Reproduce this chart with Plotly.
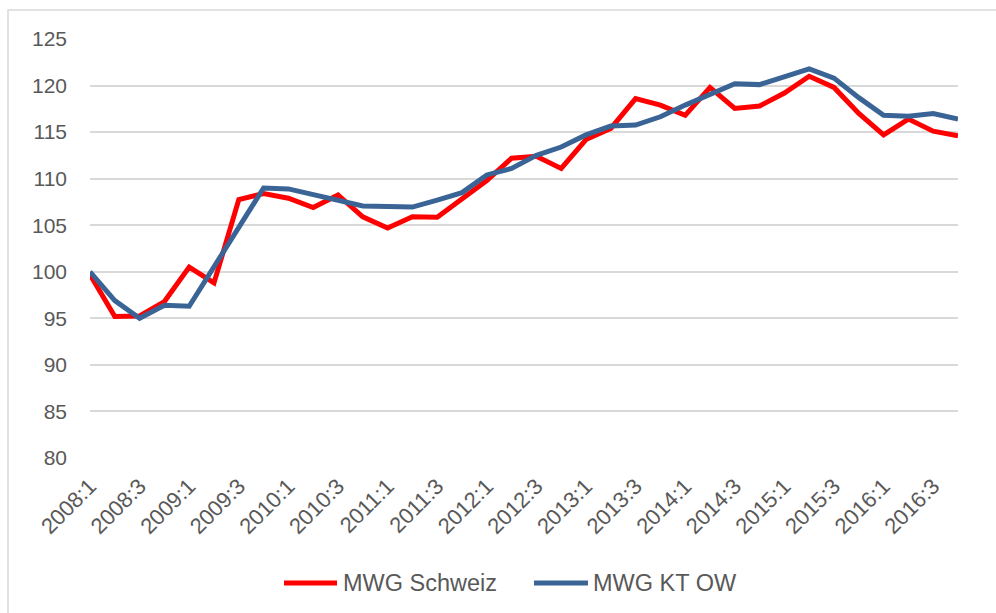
import plotly.graph_objects as go

# Quarterly index values, 2008:1 = 100
quarters = [f"{y}:{q}" for y in range(2008, 2017) for q in range(1, 5)]

mwg_schweiz = [99.7, 95.2, 95.25, 96.8, 100.5, 98.8, 107.75, 108.4, 107.9, 106.9,
               108.25, 105.9, 104.7, 105.9, 105.85, 107.8, 109.8, 112.2, 112.4, 111.1,
               114.2, 115.4, 118.6, 117.9, 116.8, 119.8, 117.55, 117.8, 119.2, 121.0,
               119.8, 117.0, 114.7, 116.4, 115.1, 114.6]

mwg_kt_ow = [100.0, 96.9, 95.0, 96.4, 96.3, 100.5, 104.6, 109.0, 108.9, 108.25,
             107.7, 107.06, 107.0, 106.95, 107.7, 108.5, 110.4, 111.1, 112.5, 113.4,
             114.7, 115.65, 115.76, 116.65, 117.9, 119.0, 120.2, 120.1, 120.95, 121.8,
             120.8, 118.7, 116.8, 116.7, 117.0, 116.4]

y_ticks = [80, 85, 90, 95, 100, 105, 110, 115, 120, 125]
x_ticks = quarters[::2]

RED = "#FF0000"
BLUE = "#3B6496"
GRID = "#D9D9D9"
TEXT = "#595959"
FONT = "Liberation Sans, Arial, sans-serif"

W, H = 996, 613
L, R, T, B = 90, 958, 39, 458


def px_x(x):
    return (x - L) / (R - L)


def px_y(y):
    return (B - y) / (B - T)


fig = go.Figure()
fig.add_trace(go.Scatter(x=quarters, y=mwg_schweiz, mode="lines", name="MWG Schweiz",
                         line=dict(color=RED, width=5)))
fig.add_trace(go.Scatter(x=quarters, y=mwg_kt_ow, mode="lines", name="MWG KT OW",
                         line=dict(color=BLUE, width=5)))

shapes = [
    # chart frame
    dict(type="rect", xref="paper", yref="paper",
         x0=px_x(8), x1=px_x(1100), y0=px_y(10), y1=px_y(700),
         line=dict(color=GRID, width=1.5), fillcolor="rgba(0,0,0,0)", layer="below"),
    # legend keys
    dict(type="line", xref="paper", yref="paper",
         x0=px_x(284), x1=px_x(337), y0=px_y(583), y1=px_y(583),
         line=dict(color=RED, width=5)),
    dict(type="line", xref="paper", yref="paper",
         x0=px_x(534), x1=px_x(588), y0=px_y(583), y1=px_y(583),
         line=dict(color=BLUE, width=5)),
]

annotations = [
    dict(text="MWG Schweiz", xref="paper", yref="paper", x=px_x(341), y=px_y(583),
         xanchor="left", yanchor="middle", showarrow=False,
         font=dict(family=FONT, size=23.5, color=TEXT)),
    dict(text="MWG KT OW", xref="paper", yref="paper", x=px_x(591), y=px_y(583),
         xanchor="left", yanchor="middle", showarrow=False,
         font=dict(family=FONT, size=23.5, color=TEXT)),
]

fig.update_layout(
    width=W, height=H,
    margin=dict(l=L, r=W - R, t=T, b=H - B, pad=0),
    paper_bgcolor="white", plot_bgcolor="white",
    showlegend=False,
    font=dict(family=FONT, color=TEXT),
    shapes=shapes, annotations=annotations,
    xaxis=dict(type="category", categoryorder="array", categoryarray=quarters,
               range=[0, len(quarters) - 1], tickvals=x_ticks, ticktext=x_ticks,
               tickangle=-45, tickfont=dict(family=FONT, size=22, color=TEXT),
               showgrid=False, showline=False, zeroline=False, ticks="",
               ticklabelstandoff=10),
    yaxis=dict(range=[80, 125], tickvals=y_ticks, showgrid=True, gridcolor=GRID,
               gridwidth=2, zeroline=False, showline=False, ticks="",
               tickfont=dict(family=FONT, size=21, color=TEXT),
               ticklabelstandoff=22),
)

fig.write_html("out.html")
